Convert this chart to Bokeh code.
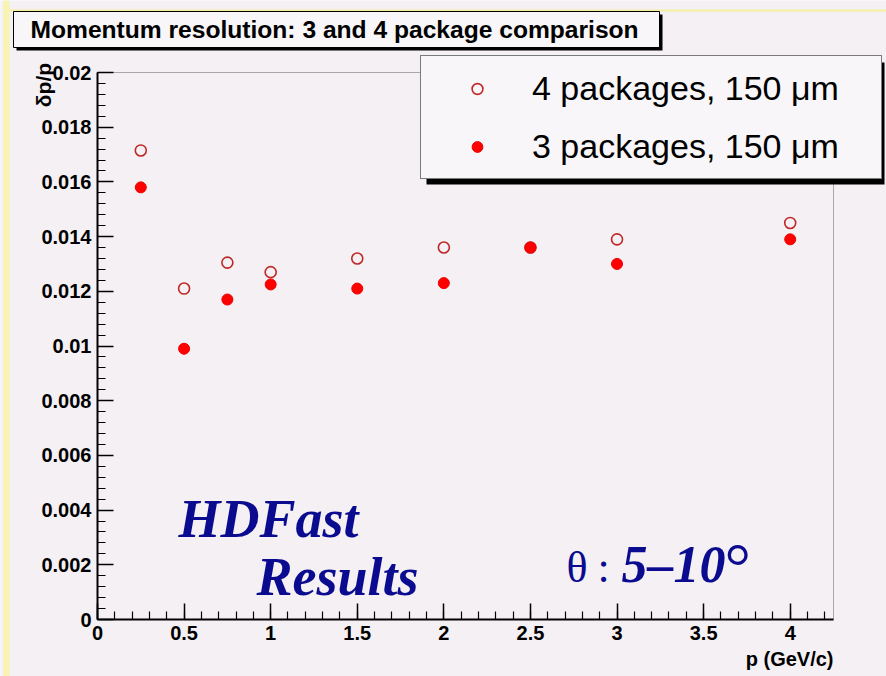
import numpy as np
from bokeh.plotting import figure
from bokeh.models import (FixedTicker, Legend, LegendItem, Label, BoxAnnotation,
                          Range1d, LinearAxis)
from bokeh.embed import file_html
from bokeh.resources import INLINE

# Momentum p (GeV/c) and relative resolution dp/p for the two detector layouts
p_values = [0.25, 0.5, 0.75, 1.0, 1.5, 2.0, 2.5, 3.0, 4.0]
res_4pkg = [0.01715, 0.0121, 0.01305, 0.0127, 0.0132, 0.0136, 0.0136, 0.0139, 0.0145]
res_3pkg = [0.0158, 0.0099, 0.0117, 0.01225, 0.0121, 0.0123, 0.0136, 0.0130, 0.0139]

x_ticks = [0.0, 0.5, 1.0, 1.5, 2.0, 2.5, 3.0, 3.5, 4.0]
x_tick_labels = ["0", "0.5", "1", "1.5", "2", "2.5", "3", "3.5", "4"]
y_ticks = [0.0, 0.002, 0.004, 0.006, 0.008, 0.01, 0.012, 0.014, 0.016, 0.018, 0.02]
y_tick_labels = ["0", "0.002", "0.004", "0.006", "0.008", "0.01", "0.012",
                 "0.014", "0.016", "0.018", "0.02"]

BG = "#f4f0f4"
NAVY = "#0b0b8f"

W, H = 886, 676
# pixel position of the plotting box inside the page
FX0, FX1, FY0, FY1 = 97, 833, 72, 619
XMAX, YMAX = 4.25, 0.02
kx = (FX1 - FX0) / XMAX
ky = (FY1 - FY0) / YMAX

# the canvas is the whole page; the axes sit at fixed data positions
p = figure(width=W, height=H,
           x_range=Range1d(-FX0 / kx, XMAX + (W - FX1) / kx),
           y_range=Range1d(-(H - FY1) / ky, YMAX + FY0 / ky),
           output_backend="svg", toolbar_location=None,
           x_axis_type=None, y_axis_type=None,
           min_border=0, min_border_left=0, min_border_right=0,
           min_border_top=0, min_border_bottom=0)
p.title.visible = False
p.background_fill_color = BG
p.border_fill_color = BG
p.outline_line_color = None
p.xgrid.visible = False
p.ygrid.visible = False

xaxis = LinearAxis(fixed_location=0, bounds=(0, XMAX),
                   ticker=FixedTicker(ticks=x_ticks,
                                      minor_ticks=[round(0.1 * i, 1) for i in range(43)]),
                   major_label_overrides=dict(zip(x_ticks, x_tick_labels)))
yaxis = LinearAxis(fixed_location=0, bounds=(0, YMAX),
                   ticker=FixedTicker(ticks=y_ticks,
                                      minor_ticks=[round(0.0004 * i, 4) for i in range(51)]),
                   major_label_overrides=dict(zip(y_ticks, y_tick_labels)))
for ax in (xaxis, yaxis):
    ax.axis_line_width = 2
    ax.axis_line_color = "black"
    ax.major_tick_in = 16
    ax.major_tick_out = 0
    ax.minor_tick_in = 8
    ax.minor_tick_out = 0
    ax.major_tick_line_width = 1.5
    ax.minor_tick_line_width = 1.2
    ax.major_label_text_font = "Liberation Sans"
    ax.major_label_text_font_style = "bold"
    ax.major_label_text_font_size = "20px"
    ax.major_label_text_color = "black"
    ax.major_label_standoff = 6
p.add_layout(xaxis, "below")
p.add_layout(yaxis, "left")


def box(x0, y0, x1, y1, fill, line_color=None, line_width=1, level="annotation"):
    """Rectangle given in page pixels (origin top-left)."""
    return BoxAnnotation(left=x0, right=x1, top=H - y0, bottom=H - y1,
                         left_units="screen", right_units="screen",
                         bottom_units="screen", top_units="screen",
                         fill_color=fill, fill_alpha=1,
                         line_color=line_color if line_color else fill,
                         line_alpha=1 if line_color else 0, line_width=line_width,
                         level=level)


def text(x, y, s, size, font="Liberation Sans", style="bold", color="black",
         align="left", angle=0):
    """Text whose baseline starts at page pixel (x, y)."""
    return Label(x=x, y=H - y + 0.36 * size, x_units="screen", y_units="screen", text=s,
                 text_font=font, text_font_style=style, text_font_size=f"{size}px",
                 text_color=color, text_align=align, text_baseline="alphabetic",
                 angle=angle)


# page decorations: yellow edge strips
p.add_layout(box(3, 0, 9, H, "#f8f4b0", level="underlay"))
p.add_layout(box(9, 9, W, 11, "#f4f0a0", level="underlay"))

# plotting box
p.add_layout(BoxAnnotation(left=0, right=XMAX, bottom=0, top=YMAX,
                           fill_color=BG, fill_alpha=1, line_color="black",
                           line_width=1, level="underlay"))

# data
r4 = p.scatter(p_values, res_4pkg, marker="circle", size=11, fill_color=None,
               line_color="#c02828", line_width=1.6)
r3 = p.scatter(p_values, res_3pkg, marker="circle", size=11, fill_color="#ff0000",
               line_color="#ee0000", line_width=1)

# title box with drop shadow
p.add_layout(box(16, 14, 662, 50, "black"))
p.add_layout(box(13, 11, 659, 47, "#f8f6f8", "black", 1))
p.add_layout(text(30, 38, "Momentum resolution: 3 and 4 package comparison", 24.6))

# legend with drop shadow
p.add_layout(box(426, 62, 884, 184, "black"))
legend = Legend(items=[LegendItem(label="4 packages, 150 \u03bcm", renderers=[r4]),
                       LegendItem(label="3 packages, 150 \u03bcm", renderers=[r3])],
                location=(420, H - 179), margin=0, padding=6, spacing=6,
                glyph_width=100, glyph_height=27, label_height=52, label_width=343,
                label_standoff=5, label_text_font="Liberation Sans",
                label_text_font_size="34px", label_text_color="black",
                background_fill_color="#f8f6f8", background_fill_alpha=1,
                border_line_color="black", border_line_width=1)
p.add_layout(legend)

# axis titles
p.add_layout(text(833, 666, "p (GeV/c)", 20, align="right"))
p.add_layout(text(43, 70, "\u03b4p/p", 21, align="right", angle=np.pi / 2))

# annotations
p.add_layout(text(178, 538, "HDFast", 54, font="Liberation Serif",
                  style="bold italic", color=NAVY))
p.add_layout(text(256, 596, "Results", 54, font="Liberation Serif",
                  style="bold italic", color=NAVY))
p.add_layout(text(566, 583, "\u03b8", 44, font="Liberation Serif",
                  style="normal", color=NAVY))
p.add_layout(text(597, 583, ":", 44, font="Liberation Serif",
                  style="normal", color=NAVY))
p.add_layout(text(621, 583, "5\u201310", 52, font="Liberation Serif",
                  style="bold italic", color=NAVY))
p.add_layout(text(724, 590, "\u00b0", 66, font="Liberation Serif",
                  style="normal", color=NAVY))

open("out.html", "w").write(file_html(p, INLINE))
